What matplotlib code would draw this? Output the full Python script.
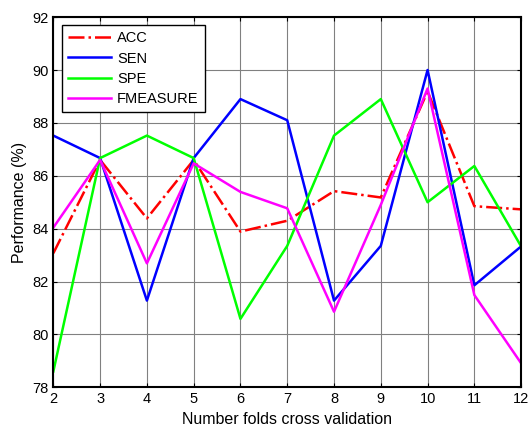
import matplotlib
matplotlib.use('Agg')
import matplotlib.pyplot as plt

plt.rcParams['font.family'] = ['Liberation Sans', 'DejaVu Sans']

# data
folds = [2, 3, 4, 5, 6, 7, 8, 9, 10, 11, 12]
acc = [83.07, 86.6, 84.39, 86.6, 83.89, 84.3, 85.42, 85.18, 89.19, 84.85, 84.73]
sen = [87.52, 86.67, 81.28, 86.67, 88.9, 88.1, 81.28, 83.35, 90.0, 81.86, 83.33]
spe = [78.6, 86.67, 87.52, 86.67, 80.59, 83.35, 87.52, 88.9, 85.0, 86.37, 83.33]
fmeasure = [84.04, 86.6, 82.69, 86.47, 85.39, 84.77, 80.86, 84.9, 89.3, 81.49, 78.91]

fig = plt.figure(figsize=(5.28, 4.28), dpi=100)
ax = fig.add_axes([0.101, 0.095, 0.886, 0.865])

ax.plot(folds, acc, color='#ff0000', linestyle='-.', linewidth=1.8, label='ACC')
ax.plot(folds, sen, color='#0000ff', linewidth=1.8, label='SEN')
ax.plot(folds, spe, color='#00ff00', linewidth=1.8, label='SPE')
ax.plot(folds, fmeasure, color='#ff00ff', linewidth=1.8, label='FMEASURE')

ax.set_xlim(2, 12)
ax.set_ylim(78, 92)
ax.set_xticks(folds)
ax.set_yticks(range(78, 93, 2))
ax.grid(True, color='#808080', linewidth=0.8, linestyle='-')
ax.tick_params(direction='in', top=True, right=True, labelsize=10.5, length=3)
for s in ax.spines.values():
    s.set_linewidth(1.5)

ax.set_xlabel('Number folds cross validation', fontsize=11.5)
ax.set_ylabel('Performance (%)', fontsize=11.5)

leg = ax.legend(loc='upper left', bbox_to_anchor=(0.018, 0.979), fontsize=10.5,
                fancybox=False, framealpha=1, edgecolor='black',
                handlelength=2.9, handletextpad=0.45, labelspacing=0.42,
                borderpad=0.45, borderaxespad=0)
leg.get_frame().set_linewidth(1.0)

fig.savefig('out.png', dpi=100)
